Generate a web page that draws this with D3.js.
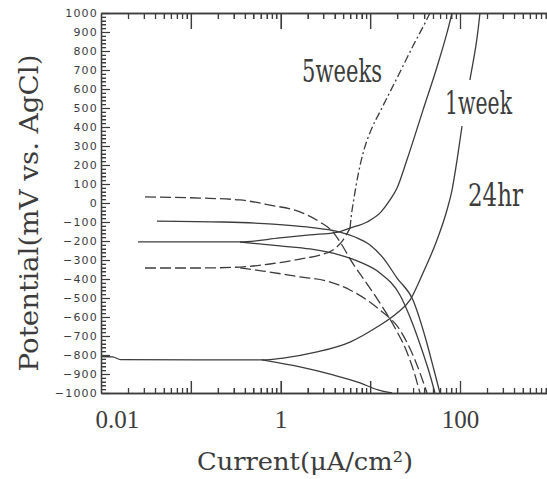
<!DOCTYPE html>
<html><head><meta charset="utf-8">
<script src="https://cdn.jsdelivr.net/npm/d3@7/dist/d3.min.js"></script>
<style>body{margin:0;background:#fff}</style>
</head><body>
<svg id="chart" width="547" height="479"></svg>
<script>
// ---------- data ----------
const xTickValues = [0.01, 1, 100];
const xTickLabels = ["0.01", "1", "100"];
const xDecades = [0.01, 0.1, 1, 10, 100, 1000];
const yTickValues = [1000, 900, 800, 700, 600, 500, 400, 300, 200, 100, 0,
  -100, -200, -300, -400, -500, -600, -700, -800, -900, -1000];

// 24hr : plateau + anodic branch
const hr24Current   = [0.01, 0.0135, 0.0165, 0.127, 0.622, 1.07, 2.55, 5.95, 11.9, 19.9, 27.7, 38.7, 55.4, 71.6, 81.5, 92.7, 105, 129, 159, 167];
const hr24Potential = [-808, -810, -824, -826, -826, -816, -784, -732, -653, -579, -511, -368, -195, -37, 68, 226, 400, 647, 911, 1000];
// 24hr : cathodic branch
const hr24CathCurrent   = [0.622, 1.65, 3.85, 7.69, 12.2, 17.5];
const hr24CathPotential = [-826, -863, -905, -947, -984, -1000];
// 1week : plateau + anodic branch
const wk1Current   = [0.0258, 0.127, 0.354, 0.986, 2.13, 4.37, 5.95, 9.20, 13.2, 16.6, 19.9, 25.6, 38.7, 55.4, 71.6, 81.5];
const wk1Potential = [-205, -205, -205, -184, -168, -153, -132, -100, -47, 16, 79, 226, 489, 716, 895, 1000];
// 1week : cathodic branch
const wk1CathCurrent   = [0.354, 0.986, 2.13, 4.60, 7.69, 12.8, 21.4, 27.7, 37.7, 46.3, 52.6];
const wk1CathPotential = [-205, -226, -242, -274, -311, -368, -484, -600, -774, -905, -1000];
// second solid curve (upper plateau)
const solidBCurrent   = [0.042, 0.229, 0.824, 1.97, 3.56, 4.60, 6.76, 9.93, 13.9, 19.9, 29.9, 41.8, 51.3, 59.8];
const solidBPotential = [-95, -100, -111, -126, -142, -153, -179, -221, -289, -395, -511, -721, -879, -1000];
// dashed curve (upper plateau)
const dashACurrent   = [0.0309, 0.127, 0.354, 0.764, 1.65, 2.75, 3.85, 4.84, 6.26, 8.30, 12.2, 18.9, 25.6, 30.7, 35.8];
const dashAPotential = [32, 26, 16, -11, -47, -100, -153, -221, -311, -395, -511, -658, -784, -889, -1000];
// 5weeks : dashed plateau rising to the junction
const wk5Current   = [0.0309, 0.127, 0.354, 0.764, 1.65, 2.75, 3.85, 4.97, 5.95];
const wk5Potential = [-342, -342, -337, -321, -295, -274, -247, -195, -132];
// 5weeks : anodic branch (dash-dot)
const wk5AnCurrent   = [5.95, 6.11, 6.59, 7.31, 8.51, 10.2, 12.8, 20.4, 29.9, 42.9, 46.3];
const wk5AnPotential = [-132, -79, 26, 147, 279, 384, 479, 668, 826, 968, 1000];
// 5weeks : cathodic branch
const wk5CathCurrent   = [0.354, 0.638, 1.65, 3.30, 5.95, 12.8, 21.4, 31.5, 42.9];
const wk5CathPotential = [-342, -358, -389, -411, -458, -563, -668, -826, -1000];

const curveLabels = ["5weeks", "1week", "24hr"];

// ---------- drawing ----------
const svg = d3.select("#chart");
const ink = "#3c3c3c";
const x = d3.scaleLog().domain([0.01, 1000]).range([101, 549.75]);
const y = d3.scaleLinear().domain([-1000, 1000]).range([393, 13]);

// curves
const lineGen = d3.line().x(d => x(d[0])).y(d => y(d[1])).curve(d3.curveMonotoneX);
const zip = (a, b) => a.map((v, i) => [v, b[i]]);
const series = [
  { c: hr24Current, p: hr24Potential, dash: null },
  { c: hr24CathCurrent, p: hr24CathPotential, dash: null },
  { c: wk1Current, p: wk1Potential, dash: null },
  { c: wk1CathCurrent, p: wk1CathPotential, dash: null },
  { c: solidBCurrent, p: solidBPotential, dash: null },
  { c: dashACurrent, p: dashAPotential, dash: "11,4" },
  { c: wk5Current, p: wk5Potential, dash: "11,4" },
  { c: wk5AnCurrent, p: wk5AnPotential, dash: "8,3,2,3" },
  { c: wk5CathCurrent, p: wk5CathPotential, dash: "11,4" }
];
const defs = svg.append("defs");
defs.append("clipPath").attr("id", "plotclip").append("rect")
  .attr("x", 101).attr("y", 13).attr("width", 449).attr("height", 380);
const curvesG = svg.append("g").attr("clip-path", "url(#plotclip)");
series.forEach(s => {
  curvesG.append("path").attr("d", lineGen(zip(s.c, s.p)))
    .attr("fill", "none").attr("stroke", ink).attr("stroke-width", 1.3)
    .attr("stroke-dasharray", s.dash);
});

// curve labels (with white knock-out behind them, as in the original)
const labelFont = "'DejaVu Serif', serif";
const labelPos = [
  { t: curveLabels[0], x: 302, y: 82, w: 80 },
  { t: curveLabels[1], x: 445, y: 114, w: 67 },
  { t: curveLabels[2], x: 468, y: 206, w: 55 }
];
labelPos.forEach(l => {
  svg.append("rect").attr("x", l.x - 2).attr("y", l.y - 34).attr("width", l.w + 4).attr("height", 46)
    .attr("fill", "#fff");
  svg.append("text").attr("x", l.x).attr("y", l.y).text(l.t)
    .attr("textLength", l.w).attr("lengthAdjust", "spacingAndGlyphs")
    .attr("fill", ink).style("font-family", labelFont).style("font-size", "31px");
});

// axis titles
svg.append("text").attr("x", 305).attr("y", 470).attr("text-anchor", "middle")
  .attr("textLength", 216).attr("lengthAdjust", "spacingAndGlyphs")
  .attr("fill", ink).style("font-family", labelFont).style("font-size", "25px")
  .text("Current(\u03bcA/cm\u00b2)");
svg.append("text").attr("transform", "translate(38,213) rotate(-90)").attr("text-anchor", "middle")
  .attr("textLength", 317).attr("lengthAdjust", "spacingAndGlyphs")
  .attr("fill", ink).style("font-family", labelFont).style("font-size", "26px")
  .text("Potential(mV vs. AgCl)");

// axes (drawn last)
const minorX = [];
xDecades.slice(0, -1).forEach(d => { for (let k = 2; k <= 9; k++) minorX.push(d * k); });
const minorY = d3.range(-1000, 1001, 20).filter(v => v % 100 !== 0);
function styleAxis(g) {
  g.selectAll("path.domain").attr("stroke", ink).attr("stroke-width", 1.3);
  g.selectAll(".tick line").attr("stroke", ink).attr("stroke-width", 1.2);
}
function addAxis(gen, tx, ty) {
  const g = svg.append("g").attr("transform", `translate(${tx},${ty})`);
  g.call(gen);
  styleAxis(g);
  return g;
}
addAxis(d3.axisBottom(x).tickValues(minorX).tickSize(-5).tickSizeOuter(0).tickFormat(""), 0, 393);
addAxis(d3.axisBottom(x).tickValues(xDecades.slice(1)).tickSize(-12).tickSizeOuter(0).tickFormat(""), 0, 393);
addAxis(d3.axisTop(x).tickValues(minorX).tickSize(-6).tickSizeOuter(0).tickFormat(""), 0, 13);
addAxis(d3.axisTop(x).tickValues(xDecades.slice(1)).tickSize(-16).tickSizeOuter(0).tickFormat(""), 0, 13);
addAxis(d3.axisLeft(y).tickValues(minorY).tickSize(-5).tickSizeOuter(0).tickFormat(""), 101, 0);
const yAx = addAxis(d3.axisLeft(y).tickValues(yTickValues).tickSize(-9).tickSizeOuter(0).tickPadding(4)
    .tickFormat(d => d < 0 ? "\u2212" + Math.abs(d) : String(d)), 101, 0);
yAx.selectAll("text").attr("x", -3).attr("fill", ink)
  .style("font-family", "'DejaVu Sans', sans-serif").style("font-size", "11px")
  .style("letter-spacing", "1.2px");
const xLab = addAxis(d3.axisBottom(x).tickValues(xTickValues).tickSize(0).tickFormat((d, i) => xTickLabels[i]), 0, 393);
xLab.select("path.domain").remove();
xLab.selectAll("text").attr("y", 35).attr("dy", 0).attr("fill", ink)
  .style("font-family", "'Liberation Serif', serif").style("font-size", "25px");
xLab.selectAll("text").filter((d, i) => i === 0).attr("text-anchor", "start").attr("x", -6);

// tick marks reinforced as paths at the same scale positions
const tp = d3.path();
minorX.forEach(v => { const px = Math.round(x(v)) + 0.5; tp.moveTo(px, 393); tp.lineTo(px, 388); tp.moveTo(px, 13); tp.lineTo(px, 19); });
xDecades.slice(1).forEach(v => { const px = Math.round(x(v)) + 0.5; tp.moveTo(px, 393); tp.lineTo(px, 381); tp.moveTo(px, 13); tp.lineTo(px, 29); });
minorY.forEach(v => { const py = Math.round(y(v)) + 0.5; tp.moveTo(101, py); tp.lineTo(106, py); });
yTickValues.forEach(v => { const py = Math.round(y(v)) + 0.5; tp.moveTo(101, py); tp.lineTo(110, py); });
svg.append("path").attr("d", tp.toString()).attr("fill", "none")
  .attr("stroke", ink).attr("stroke-width", 1.1);
</script>
</body></html>
